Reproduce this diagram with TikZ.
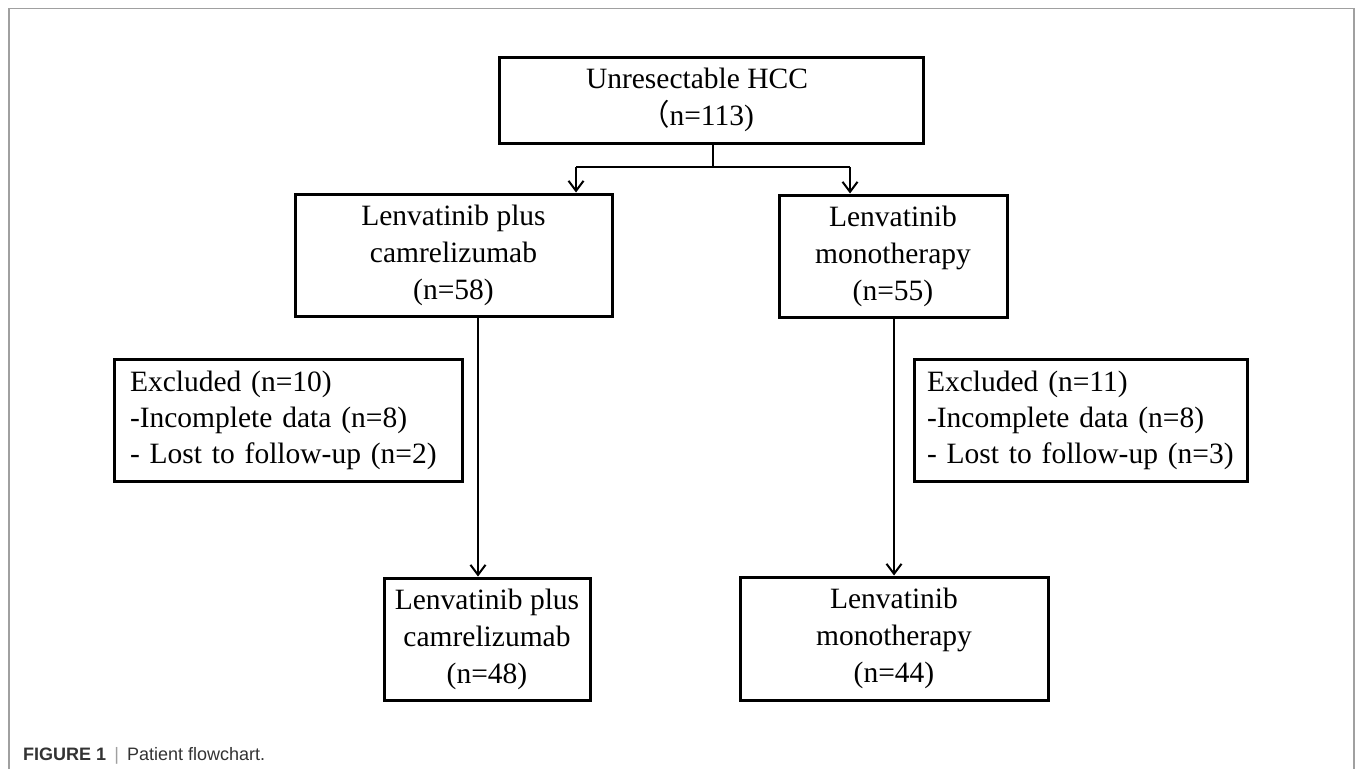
\documentclass[tikz,border=0pt]{standalone}
\usepackage{fontspec}
\setmainfont{Liberation Serif}
\setsansfont{Liberation Sans}
\newfontfamily\cjkfont{Noto Sans CJK SC}
\usetikzlibrary{arrows.meta}
\definecolor{framegray}{HTML}{A0A0A0}
\definecolor{capgray}{HTML}{333333}
\tikzset{
  boxstyle/.style={draw=black, line width=3pt, rectangle, align=center, inner sep=2pt,
    font=\fontsize{29.5}{37}\selectfont},
  exclstyle/.style={draw=black, line width=3pt, rectangle, align=left, inner xsep=16pt,
    text width=316pt, minimum height=122pt, font=\fontsize{29.5}{36}\selectfont},
  arr/.style={line width=2pt, -{Straight Barb[length=10pt,width=15pt,line width=2pt]}},
  plain/.style={line width=2pt},
}
\begin{document}
\begin{tikzpicture}[x=1pt,y=-1pt]
\useasboundingbox (0,0) rectangle (1355,769);
% frame
\draw[framegray, line width=1.5pt] (9,769) -- (9,8.5) -- (1354,8.5) -- (1354,769);
% nodes
\node[boxstyle, minimum width=424pt, minimum height=86pt] (top) at (711,100) {};
\node[align=center, inner sep=0pt, font=\fontsize{29.5}{37}\selectfont] (toptext) at (697,100)
  {Unresectable HCC\\{\cjkfont （}n=113)};
\node[boxstyle, minimum width=317pt, minimum height=122pt] (L1) at (453.5,255)
  {Lenvatinib plus\\camrelizumab\\(n=58)};
\node[boxstyle, minimum width=228pt, minimum height=122pt] (R1) at (893,256)
  {Lenvatinib\\monotherapy\\(n=55)};
\node[exclstyle] (EL) at (288,420)
  {Excluded (n=10)\\-Incomplete data (n=8)\\- Lost to follow-up (n=2)};
\node[exclstyle, inner xsep=13pt, text width=307pt] (ER) at (1080.5,420)
  {Excluded (n=11)\\-Incomplete data (n=8)\\- Lost to follow-up (n=3)};
\node[boxstyle, minimum width=206pt, minimum height=122pt] (L2) at (487,639)
  {Lenvatinib plus\\camrelizumab\\(n=48)};
\node[boxstyle, minimum width=308pt, minimum height=123pt] (R2) at (894,638.5)
  {Lenvatinib\\monotherapy\\(n=44)};
% connectors
\coordinate (split) at (713,167);
\coordinate (aL) at (576,167);
\coordinate (aR) at (850,167);
\draw[plain] (top.south -| split) -- (split);
\draw[plain] (aL) -- (aR);
\draw[arr] (aL) -- (aL |- L1.north);
\draw[arr] (aR) -- (aR |- R1.north);
\coordinate (sL) at (478,0);
\coordinate (sR) at (894,0);
\draw[arr] (sL |- L1.south) -- (sL |- L2.north);
\draw[arr] (sR |- R1.south) -- (sR |- R2.north);
% caption
\node[anchor=base west, inner sep=0pt, text=capgray, font=\sffamily\fontsize{18}{20}\selectfont] (cap) at (23,760)
  {\textbf{FIGURE 1}\hspace{0.45em}{\color{framegray}|}\hspace{0.45em}Patient flowchart.};
\end{tikzpicture}
\end{document}
